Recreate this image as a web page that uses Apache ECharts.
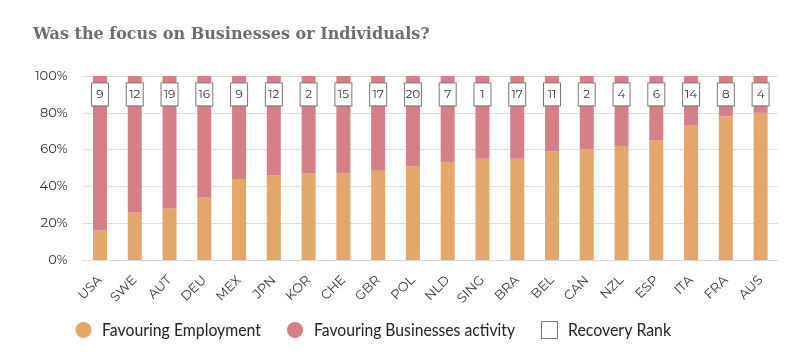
<!DOCTYPE html>
<html><head><meta charset="utf-8">
<script src="https://cdn.jsdelivr.net/npm/echarts@6/dist/echarts.min.js"></script>
<style>html,body{margin:0;padding:0;background:#fff}#c{width:798px;height:358px}</style>
</head><body><div id="c"></div>
<script>
const categories = ['USA','SWE','AUT','DEU','MEX','JPN','KOR','CHE','GBR','POL','NLD','SING','BRA','BEL','CAN','NZL','ESP','ITA','FRA','AUS'];
const employment = [16,26,28,34,44,46,47,47,48.5,51,53,55,55,59,60,62,65,73,78,80];
const businesses = employment.map(v => 100 - v);
const recoveryRank = [9,12,19,16,9,12,2,15,17,20,7,1,17,11,2,4,6,14,8,4];
const rankLevel = 90;
const yTicks = [0,20,40,60,80,100];
const legendNames = ['Favouring Employment','Favouring Businesses activity','Recovery Rank'];

const colEmp = '#E3A76B', colBus = '#D58089';
const chart = echarts.init(document.getElementById('c'));
const axisFont = 'Montserrat, "Noto Sans", "DejaVu Sans", sans-serif';

// legend drawn as graphic (condensed text via horizontal scaling)
const legFont = '17px Lato';
const ctx = document.createElement('canvas').getContext('2d');
ctx.font = legFont;
const legTargets = [{x:102,w:159},{x:314,w:201},{x:568,w:103}];
const legY = 330;
const legendGraphics = [
  { type: 'circle', shape: { cx: 83.5, cy: legY, r: 8 }, style: { fill: colEmp } },
  { type: 'circle', shape: { cx: 295, cy: legY, r: 8 }, style: { fill: colBus } },
  { type: 'rect', shape: { x: 541.5, y: legY - 8.5, width: 16, height: 17 }, style: { fill: '#fff', stroke: '#777', lineWidth: 1 } }
];
legendNames.forEach((t, i) => {
  const w = ctx.measureText(t).width;
  legendGraphics.push({
    type: 'text', x: legTargets[i].x, y: legY + 1, scaleX: legTargets[i].w / w,
    style: { text: t, font: legFont, fill: '#222', textVerticalAlign: 'middle', verticalAlign: 'middle' }
  });
});

chart.setOption({
  animation: false,
  title: {
    text: 'Was the focus on Businesses or Individuals?',
    left: 28, top: 22,
    textStyle: { fontFamily: '"DejaVu Serif", serif', fontSize: 16, fontWeight: 'bold', color: '#6d6d6d' }
  },
  legend: { show: false, data: legendNames },
  graphic: legendGraphics,
  grid: { left: 82.6, right: 20, top: 76, bottom: 98 },
  xAxis: {
    type: 'category', data: categories,
    axisLine: { lineStyle: { color: '#d8d8d8' } },
    axisTick: { show: false },
    axisLabel: { rotate: 45, fontFamily: axisFont, fontSize: 13, color: '#333', margin: 18 }
  },
  yAxis: {
    type: 'value', min: 0, max: 100, interval: 20,
    axisLine: { show: false }, axisTick: { show: false },
    splitLine: { lineStyle: { color: '#dddddd' } },
    axisLabel: { formatter: v => yTicks.includes(v) ? v + '%' : '', fontFamily: axisFont, fontSize: 13, color: '#333', margin: 15 }
  },
  series: [
    { name: legendNames[0], type: 'bar', stack: 's', barWidth: 14, data: employment, itemStyle: { color: colEmp } },
    { name: legendNames[1], type: 'bar', stack: 's', barWidth: 14, data: businesses, itemStyle: { color: colBus } },
    { name: legendNames[2], type: 'scatter', z: 10, symbolSize: 1, itemStyle: { color: '#fff', opacity: 1 },
      data: recoveryRank.map(r => rankLevel),
      label: { show: true, position: 'inside', opacity: 1, formatter: p => String(recoveryRank[p.dataIndex]),
        backgroundColor: '#fff', borderColor: '#777', borderWidth: 1, padding: [4, 2, 4, 2],
        fontFamily: axisFont, fontSize: 12, color: '#333', width: 12, align: 'center', lineHeight: 14 }
    }
  ]
});
</script></body></html>
